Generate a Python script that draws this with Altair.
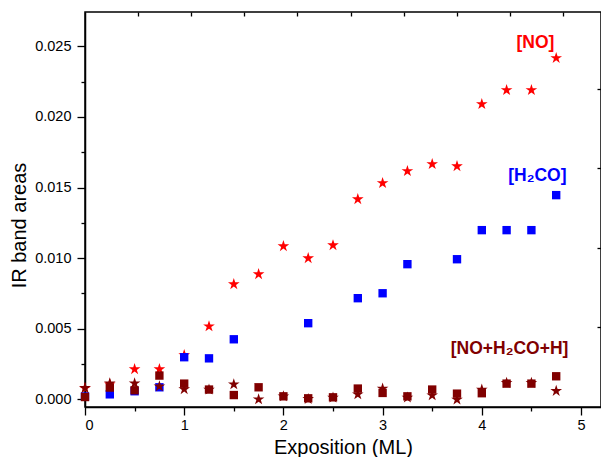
import altair as alt
import pandas as pd

# ---- data ----
x_all = [0, 0.25, 0.5, 0.75, 1.0, 1.25, 1.5, 1.75, 2.0, 2.25,
         2.5, 2.75, 3.0, 3.25, 3.5, 3.75, 4.0, 4.25, 4.5, 4.75]

no_vals = [0.00078, 0.00106, 0.00213, 0.00213, 0.00312, 0.00517, 0.00815, 0.00886, 0.01084, 0.00999,
           0.01091, 0.01417, 0.01531, 0.01616, 0.01666, 0.01651, 0.02091, 0.0219, 0.0219, 0.02417]

h2co_x = [0, 0.25, 0.5, 0.75, 1.0, 1.25, 1.5, 2.25, 2.75, 3.0, 3.25, 3.75, 4.0, 4.25, 4.5, 4.75]
h2co_vals = [0.0002, 0.00035, 0.00057, 0.00085, 0.00298, 0.0029, 0.00425, 0.00539, 0.00716, 0.00751,
             0.00957, 0.00992, 0.01198, 0.01198, 0.01198, 0.01446]

mix_sq_vals = [0.00016, 0.00083, 0.00064, 0.00168, 0.00111, 0.00069, 0.0003, 0.00085, 0.00021, 0.00007,
               0.00014, 0.00076, 0.00045, 0.00021, 0.00069, 0.0004, 0.00043, 0.00111, 0.00111, 0.00163]

mix_star_vals = [0.0008, 0.00113, 0.00113, 0.00092, 0.00071, 0.00069, 0.00106, 0.0, 0.00021, 0.00002,
                 0.00012, 0.00035, 0.00076, 0.00012, 0.00028, -0.00002, 0.00069, 0.00116, 0.00116, 0.00059]

STAR = ("M0,-1L0.2245,-0.309L0.951,-0.309L0.363,0.118L0.588,0.809L0,0.382"
        "L-0.588,0.809L-0.363,0.118L-0.951,-0.309L-0.2245,-0.309Z")

series_names = ["NO", "H2CO", "mix_sq", "mix_star"]
series_shapes = [STAR, "square", "square", STAR]
series_colors = ["#ff0000", "#0000ff", "#800000", "#800000"]
series_sizes = [150, 70, 70, 150]

label_text = ["[NO]", "[H\u2082CO]", "[NO+H\u2082CO+H]"]
label_x = [4.54, 4.56, 4.28]
label_y = [0.0252, 0.0158, 0.00354]
label_colors = ["#ff0000", "#0000ff", "#800000"]

x_ticks = [0, 0.5, 1, 1.5, 2, 2.5, 3, 3.5, 4, 4.5, 5]
y_ticks = [0.0, 0.0025, 0.005, 0.0075, 0.01, 0.0125, 0.015, 0.0175, 0.02, 0.0225, 0.025]
top_ticks = [0.535, 1.071, 1.606, 2.142, 2.677, 3.212, 3.748, 4.283, 4.819]
right_ticks = [0.005092, 0.01073, 0.016368, 0.022006]

# ---- tables ----
rows = []
for s, xs_, vs_ in [("NO", x_all, no_vals), ("H2CO", h2co_x, h2co_vals),
                    ("mix_sq", x_all, mix_sq_vals), ("mix_star", x_all, mix_star_vals)]:
    for a, b in zip(xs_, vs_):
        rows.append({"series": s, "expo": a, "area": b})
df = pd.DataFrame(rows)
labels = pd.DataFrame({"text": label_text, "expo": label_x, "area": label_y, "c": label_colors})

W, H = 516, 395
XDOM = [0, 5.2016]
YDOM = [-0.000546, 0.02743]
FONT = "Liberation Sans"

xsc = alt.Scale(domain=XDOM, nice=False, zero=False)
ysc = alt.Scale(domain=YDOM, nice=False, zero=False)

xaxis = alt.Axis(orient="bottom", values=x_ticks, format=".0f",
                 labelExpr="round(datum.value*2) % 2 == 0 ? datum.label : ''",
                 tickSize={"condition": {"test": "round(datum.value*2) % 2 == 0", "value": 8}, "value": 4},
                 labelPadding=3, labelFontSize=14.5, titleFontSize=20,
                 titleBaseline="alphabetic", titleY=46,
                 grid=False, domain=True)
yaxis = alt.Axis(orient="left", values=y_ticks, format=".3f",
                 labelExpr="round(datum.value*400) % 2 == 0 ? datum.label : ''",
                 tickSize={"condition": {"test": "round(datum.value*400) % 2 == 0", "value": 8}, "value": 4},
                 labelPadding=6, labelFontSize=14.5, titleFontSize=20,
                 titleBaseline="alphabetic", titleX=-60, titleY=213, titleAlign="center", titleAngle=270,
                 grid=False, domain=True)

points = alt.Chart(df).mark_point(filled=True, opacity=1).encode(
    x=alt.X("expo:Q", scale=xsc, title="Exposition (ML)", axis=xaxis),
    y=alt.Y("area:Q", scale=ysc, title="IR band areas", axis=yaxis),
    shape=alt.Shape("series:N", scale=alt.Scale(domain=series_names, range=series_shapes), legend=None),
    color=alt.Color("series:N", scale=alt.Scale(domain=series_names, range=series_colors), legend=None),
    size=alt.Size("series:N", scale=alt.Scale(type="ordinal", domain=series_names, range=series_sizes),
                  legend=None),
)

top_axis = alt.Chart(df).mark_point(opacity=0).encode(
    x=alt.X("expo:Q", scale=xsc,
            axis=alt.Axis(orient="top", offset=-4, values=top_ticks, tickSize=4, labels=False,
                          title=None, domain=False, grid=False)),
    y=alt.Y("area:Q", scale=ysc, axis=None),
)

right_axis = alt.Chart(df).mark_point(opacity=0).encode(
    x=alt.X("expo:Q", scale=xsc, axis=None),
    y=alt.Y("area:Q", scale=ysc,
            axis=alt.Axis(orient="right", offset=-4, values=right_ticks, tickSize=4, labels=False,
                          title=None, domain=False, grid=False)),
)

texts = alt.Chart(labels).mark_text(
    font=FONT, fontSize=17.5, fontWeight="bold", align="center", baseline="middle"
).encode(
    x=alt.X("expo:Q", scale=xsc, axis=None),
    y=alt.Y("area:Q", scale=ysc, axis=None),
    text="text:N",
    color=alt.Color("c:N", scale=None, legend=None),
)

chart = alt.layer(points, top_axis, right_axis, texts).resolve_axis(
    x="independent", y="independent"
).resolve_scale(color="independent").properties(
    width=W, height=H,
    autosize=alt.AutoSizeParams(type="none"),
    padding={"left": 77, "top": 4, "right": 0, "bottom": 50},
).configure_view(stroke="black", strokeWidth=1.5).configure_axis(
    labelFont=FONT, titleFont=FONT, labelColor="black", titleColor="black",
    tickColor="black", domainColor="black", domainWidth=1.5, tickWidth=1.3,
    titleFontWeight="normal",
)

chart.save("out.html", embed_options={"renderer": "svg", "actions": False})
